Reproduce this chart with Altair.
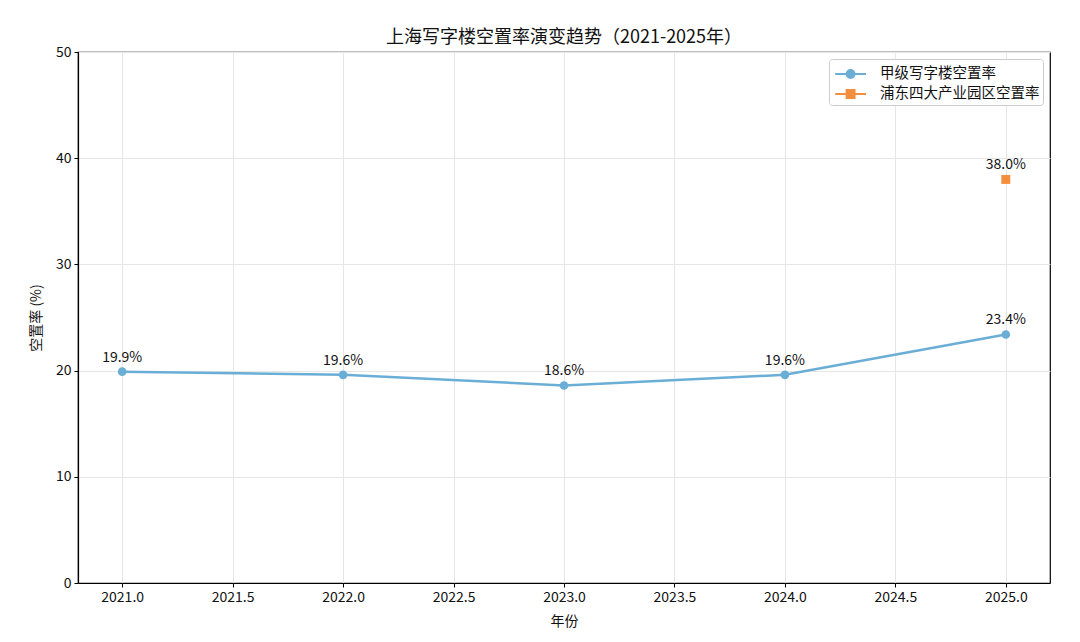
import altair as alt
import pandas as pd

years = [2021, 2022, 2023, 2024, 2025]
grade_a = [19.9, 19.6, 18.6, 19.6, 23.4]
pudong_years = [2025]
pudong = [38.0]
series_names = ["甲级写字楼空置率", "浦东四大产业园区空置率"]
colors = ["#6aaed6", "#f28e3c"]
x_ticks = [2021.0, 2021.5, 2022.0, 2022.5, 2023.0, 2023.5, 2024.0, 2024.5, 2025.0]
y_ticks = [0, 10, 20, 30, 40, 50]

df_a = pd.DataFrame({"year": years, "rate": grade_a, "series": series_names[0]})
df_b = pd.DataFrame({"year": pudong_years, "rate": pudong, "series": series_names[1]})
df_a["label"] = df_a["rate"].map(lambda v: f"{v:.1f}%")
df_b["label"] = df_b["rate"].map(lambda v: f"{v:.1f}%")
df_all = pd.concat([df_a, df_b], ignore_index=True)

FONT = "Noto Sans CJK SC"

xs = alt.Scale(domain=[2020.8, 2025.2], nice=False, zero=False)
ys = alt.Scale(domain=[0, 50], nice=False)

x_enc = alt.X("year:Q", scale=xs, title="年份",
              axis=alt.Axis(values=x_ticks, format=".1f", labelFlush=False))
y_enc = alt.Y("rate:Q", scale=ys, title="空置率 (%)",
              axis=alt.Axis(values=y_ticks, format="d"))

line = alt.Chart(df_a).mark_line(color=colors[0], strokeWidth=2.5).encode(x=x_enc, y=y_enc)
pts_a = alt.Chart(df_a).mark_point(filled=True, shape="circle", size=75, color=colors[0], opacity=1).encode(x=x_enc, y=y_enc)
pts_b = alt.Chart(df_b).mark_point(filled=True, shape="square", size=80, color=colors[1], opacity=1).encode(x=x_enc, y=y_enc)

labels = alt.Chart(df_all).mark_text(dy=-14, fontSize=14, font=FONT, color="#111").encode(
    x=x_enc, y=y_enc, text="label:N")

circ = ("M-0.8,0H2.0"
        "M0.96,0A0.36,0.36 0 1 1 0.24,0A0.36,0.36 0 1 1 0.96,0"
        "M0.8,0A0.2,0.2 0 1 1 0.4,0A0.2,0.2 0 1 1 0.8,0"
        "M0.66,0A0.06,0.06 0 1 1 0.54,0A0.06,0.06 0 1 1 0.66,0")
sq = ("M-0.8,0H2.0"
      "M0.24,-0.36H0.96V0.36H0.24Z"
      "M0.4,-0.2H0.8V0.2H0.4Z"
      "M0.54,-0.06H0.66V0.06H0.54Z")

legend_layer = alt.Chart(df_all).transform_filter("false").mark_point(filled=False, strokeWidth=2, opacity=1).encode(
    x=x_enc, y=y_enc,
    color=alt.Color("series:N", scale=alt.Scale(domain=series_names, range=colors),
                    legend=alt.Legend(title=None, orient="none", legendX=751, legendY=7,
                                      symbolSize=484, labelFontSize=14.5, labelFont=FONT,
                                      fillColor="white", strokeColor="#cccccc", cornerRadius=3,
                                      padding=3, rowPadding=0, symbolStrokeWidth=2,
                                      labelColor="#111", labelOffset=24, offset=0)),
    shape=alt.Shape("series:N", scale=alt.Scale(domain=series_names, range=[circ, sq]), legend=None),
)

chart = alt.layer(line, pts_a, pts_b, labels, legend_layer).properties(
    width=972, height=531,
    title=alt.Title("上海写字楼空置率演变趋势（2021-2025年）", fontSize=18, font=FONT,
                    fontWeight="normal", color="#111", offset=-2),
    autosize=alt.AutoSizeParams(type="none"),
    padding={"left": 70, "top": 44, "right": 10, "bottom": 60},
).configure_view(stroke="black", strokeWidth=1.2).configure_axis(
    labelFont=FONT, titleFont=FONT, labelFontSize=14, titleFontSize=14,
    titleFontWeight="normal", labelColor="#111", titleColor="#111",
    domainColor="black", tickColor="black", tickSize=4, gridColor="#e6e6e6",
    domainWidth=1.2, labelPadding=3,
).configure_axisX(titlePadding=10).configure_axisY(titlePadding=12)

chart.save("out.html", embed_options={"renderer": "svg", "actions": False})
